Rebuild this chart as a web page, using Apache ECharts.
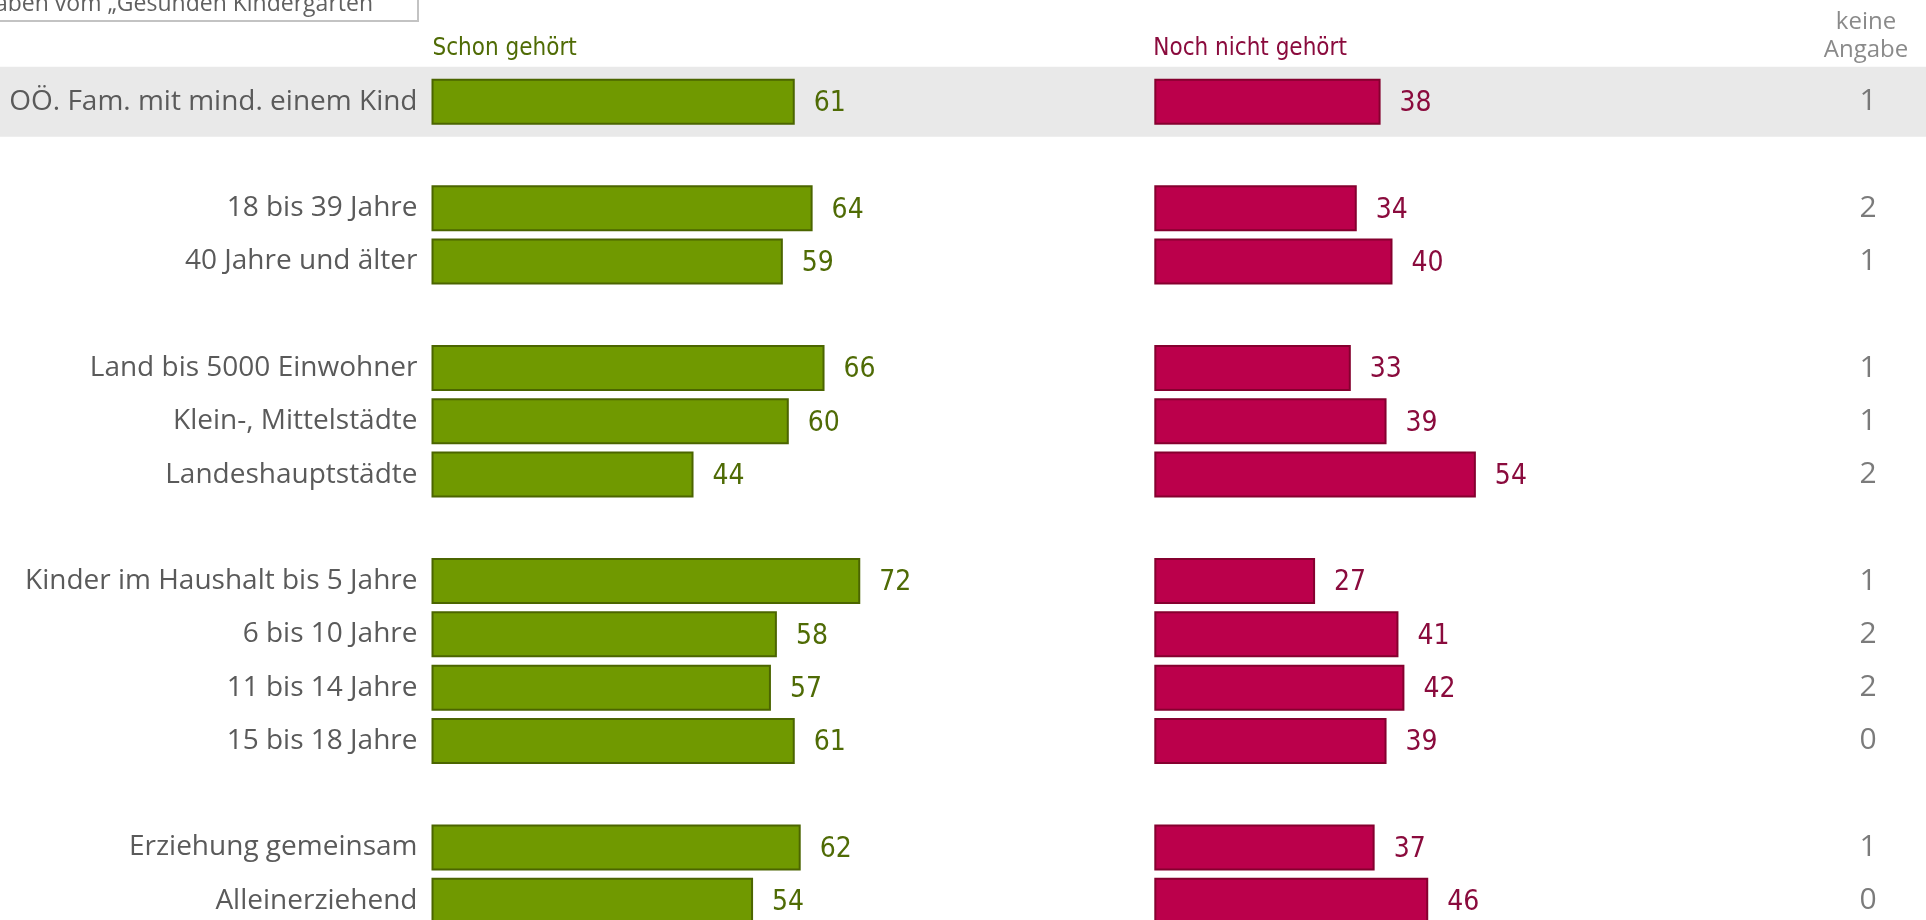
<!DOCTYPE html>
<html lang="de">
<head>
<meta charset="utf-8">
<title>Gesunder Kindergarten – Bekanntheit</title>
<script src="https://cdn.jsdelivr.net/npm/echarts@6/dist/echarts.min.js"></script>
<style>
  html, body { margin: 0; padding: 0; background: #ffffff; }
  #chart { width: 1926px; height: 920px; }
</style>
</head>
<body>
<div id="chart"></div>
<script>
// Rows of the chart; empty strings are spacer rows between the groups.
const categories = [
  'OÖ. Fam. mit mind. einem Kind', '',
  '18 bis 39 Jahre', '40 Jahre und älter', '',
  'Land bis 5000 Einwohner', 'Klein-, Mittelstädte', 'Landeshauptstädte', '',
  'Kinder im Haushalt bis 5 Jahre', '6 bis 10 Jahre', '11 bis 14 Jahre', '15 bis 18 Jahre', '',
  'Erziehung gemeinsam', 'Alleinerziehend'
];
// Shares in percent
const schonGehoert     = [61, null, 64, 59, null, 66, 60, 44, null, 72, 58, 57, 61, null, 62, 54];
const nochNichtGehoert = [38, null, 34, 40, null, 33, 39, 54, null, 27, 41, 42, 39, null, 37, 46];
const keineAngabe      = [ 1, null,  2,  1, null,  1,  1,  2, null,  1,  2,  2,  0, null,  1,  0];

const seriesNames = ['Schon gehört', 'Noch nicht gehört', 'keine\nAngabe'];

const GREEN = '#709900', GREEN_DARK = '#4b6500', GREEN_TEXT = '#4f6b05';
const RED = '#bb004b', RED_DARK = '#85002f', RED_TEXT = '#8a0b3d';
const GREY_TEXT = '#5a5a5a';
const NARROW = "'Liberation Sans Narrow', 'DejaVu Sans Condensed', sans-serif";
const NORMAL = "'Open Sans', 'Noto Sans', sans-serif";

// First row centre sits on the grid top, last row centre on the grid bottom
const TOP = 101.7, ROWS_H = 799, BAR_W = 46;

const chart = echarts.init(document.getElementById('chart'), null, { renderer: 'canvas' });

const hiddenValueAxis = (grid, max) => ({
  type: 'value', gridIndex: grid, min: 0, max: max,
  show: false, splitLine: { show: false }
});
const rowAxis = (grid, showLabels) => ({
  type: 'category', gridIndex: grid, data: categories, inverse: true,
  boundaryGap: false,
  axisLine: { show: false }, axisTick: { show: false }, splitLine: { show: false },
  axisLabel: showLabels ? {
    show: true, margin: 14, align: 'right', interval: 0,
    color: GREY_TEXT, fontFamily: NORMAL, fontSize: 28
  } : { show: false }
});

const valueLabel = color => ({
  show: true, position: 'right', distance: 19, offset: [0, 2],
  color: color, fontFamily: NARROW, fontSize: 28
});

const option = {
  animation: false,
  backgroundColor: '#ffffff',
  grid: [
    { left: 431.5,  top: TOP, width: 595.5, height: ROWS_H },
    { left: 1154.3, top: TOP, width: 595.5, height: ROWS_H },
    { left: 1826,   top: TOP, width: 84,    height: ROWS_H }
  ],
  xAxis: [
    hiddenValueAxis(0, 100),
    hiddenValueAxis(1, 100),
    { type: 'category', gridIndex: 2, data: ['kA'], show: false }
  ],
  yAxis: [rowAxis(0, true), rowAxis(1, false), rowAxis(2, false)],
  series: [
    {
      name: seriesNames[0], type: 'bar', xAxisIndex: 0, yAxisIndex: 0,
      data: schonGehoert, barWidth: BAR_W, clip: false,
      itemStyle: { color: GREEN, borderColor: GREEN_DARK, borderWidth: 2 },
      label: valueLabel(GREEN_TEXT)
    },
    {
      name: seriesNames[1], type: 'bar', xAxisIndex: 1, yAxisIndex: 1,
      data: nochNichtGehoert, barWidth: BAR_W, clip: false,
      itemStyle: { color: RED, borderColor: RED_DARK, borderWidth: 2 },
      label: valueLabel(RED_TEXT)
    },
    {
      name: seriesNames[2], type: 'scatter', xAxisIndex: 2, yAxisIndex: 2,
      symbolSize: 0, clip: false,
      data: keineAngabe
        .map((v, i) => (v === null ? null : [0, i, v]))
        .filter(d => d !== null),
      label: {
        show: true, position: 'inside', align: 'center', verticalAlign: 'middle',
        formatter: p => String(p.value[2]),
        color: GREY_TEXT, fontFamily: NORMAL, fontSize: 30
      }
    }
  ]
};
chart.setOption(option);

// Highlight band behind the total row, a boxed note and the column headers
function drawDecorations() {
  const y0 = chart.convertToPixel({ yAxisIndex: 0 }, 0);
  const y1 = chart.convertToPixel({ yAxisIndex: 0 }, 1);
  const half = (y1 - y0) * 0.656;
  const greenLeft = chart.convertToPixel({ xAxisIndex: 0 }, 0);
  const redLeft = chart.convertToPixel({ xAxisIndex: 1 }, 0);

  chart.setOption({
    graphic: [
      {
        type: 'rect', z: -10, silent: true,
        shape: { x: 0, y: y0 - half, width: 1926, height: 2 * half },
        style: { fill: '#e9e9e9' }
      },
      {
        type: 'rect', z: 5, silent: true,
        shape: { x: -4, y: -20, width: 422, height: 41 },
        style: { fill: '#ffffff', stroke: '#c3c3c3', lineWidth: 2 }
      },
      {
        type: 'text', z: 6, silent: true, x: 373, y: 16,
        style: {
          text: 'aben vom „Gesunden Kindergarten', align: 'right', verticalAlign: 'bottom',
          fill: '#606060', font: "23px 'Open Sans', sans-serif"
        }
      },
      {
        type: 'text', silent: true, x: greenLeft + 1, y: 49,
        style: {
          text: seriesNames[0], align: 'left', verticalAlign: 'middle',
          fill: GREEN_TEXT, font: "24px " + NARROW
        }
      },
      {
        type: 'text', silent: true, x: redLeft - 1, y: 49,
        style: {
          text: seriesNames[1], align: 'left', verticalAlign: 'middle',
          fill: RED_TEXT, font: "24px " + NARROW
        }
      },
      {
        type: 'text', silent: true, x: 1866, y: 36,
        style: {
          text: seriesNames[2], align: 'center', verticalAlign: 'middle',
          lineHeight: 28, fill: '#8a8a8a', font: "24px 'Open Sans', sans-serif"
        }
      }
    ]
  });
}
drawDecorations();
</script>
</body>
</html>
